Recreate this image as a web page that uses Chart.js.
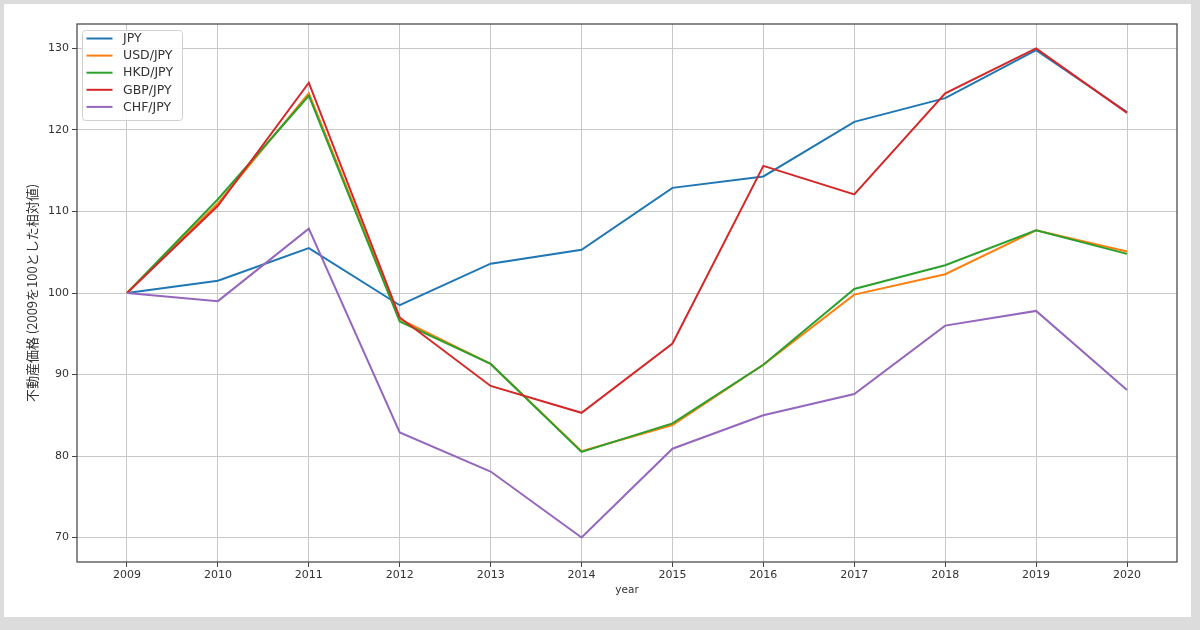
<!DOCTYPE html>
<html>
<head>
<meta charset="utf-8">
<script src="https://cdn.jsdelivr.net/npm/chart.js@4/dist/chart.umd.min.js"></script>
<style>
  html, body { margin: 0; padding: 0; background: #dcdcdc; }
  #box { position: absolute; left: 4px; top: 4px; width: 1187px; height: 613px; background: #fff; }
  #c { display: block; }
</style>
</head>
<body>
<div id="box"><canvas id="c" width="1187" height="613"></canvas></div>
<script>
const years = [2009, 2010, 2011, 2012, 2013, 2014, 2015, 2016, 2017, 2018, 2019, 2020];
const yTicks = [70, 80, 90, 100, 110, 120, 130];

const jpy = [100, 101.5, 105.5, 98.5, 103.6, 105.3, 112.9, 114.3, 121.0, 123.9, 129.8, 122.2];
const usdJpy = [100, 111.0, 124.5, 96.8, 91.3, 80.6, 83.8, 91.2, 99.8, 102.3, 107.7, 105.1];
const hkdJpy = [100, 111.5, 124.2, 96.5, 91.3, 80.5, 84.0, 91.2, 100.5, 103.4, 107.7, 104.8];
const gbpJpy = [100, 110.7, 125.8, 97.0, 88.6, 85.3, 93.8, 115.6, 112.1, 124.5, 130.0, 122.1];
const chfJpy = [100, 99.0, 107.9, 82.9, 78.1, 70.0, 80.9, 85.0, 87.6, 96.0, 97.8, 88.1];

const seriesNames = ["JPY", "USD/JPY", "HKD/JPY", "GBP/JPY", "CHF/JPY"];
const seriesValues = [jpy, usdJpy, hkdJpy, gbpJpy, chfJpy];
const colors = ["#1f77b4", "#ff7f0e", "#2ca02c", "#d62728", "#9467bd"];

const tickFont = { family: "'DejaVu Sans', sans-serif", size: 11 };

// matplotlib-like frame + legend inside the axes
const framePlugin = {
  id: "frame",
  beforeDatasetsDraw(chart) {
    const a = chart.chartArea, ctx = chart.ctx;
    ctx.save();
    ctx.strokeStyle = "#4d4d4d";
    ctx.lineWidth = 1.3;
    ctx.strokeRect(a.left, a.top, a.right - a.left, a.bottom - a.top);
    ctx.restore();
  },
  afterDraw(chart) {
    const a = chart.chartArea, ctx = chart.ctx;
    const x0 = a.left + 5, y0 = a.top + 6, w = 100, h = 90;
    ctx.save();
    ctx.fillStyle = "rgba(255,255,255,0.85)";
    ctx.strokeStyle = "#d0d0d0";
    ctx.lineWidth = 1;
    ctx.beginPath();
    ctx.roundRect(x0 + 0.5, y0 + 0.5, w, h, 3);
    ctx.fill();
    ctx.stroke();
    ctx.font = "12.5px 'DejaVu Sans', sans-serif";
    ctx.textBaseline = "middle";
    chart.data.datasets.forEach((ds, i) => {
      const yy = y0 + 8.5 + i * 17.1;
      ctx.strokeStyle = ds.borderColor;
      ctx.lineWidth = 2;
      ctx.beginPath();
      ctx.moveTo(x0 + 4.5, yy);
      ctx.lineTo(x0 + 30.5, yy);
      ctx.stroke();
      ctx.fillStyle = "#333";
      ctx.fillText(ds.label, x0 + 41, yy + 0.5);
    });
    ctx.restore();
  }
};

const datasets = seriesNames.map((name, i) => ({
  label: name,
  data: years.map((y, j) => ({ x: y, y: seriesValues[i][j] })),
  borderColor: colors[i],
  backgroundColor: colors[i],
  borderWidth: 2,
  pointRadius: 0,
  tension: 0,
  order: seriesNames.length - i
}));

new Chart(document.getElementById("c"), {
  type: "line",
  data: { datasets: datasets },
  plugins: [framePlugin],
  options: {
    responsive: false,
    animation: false,
    layout: { padding: { left: 0, top: 20, right: 14, bottom: 0 } },
    plugins: { legend: { display: false }, tooltip: { enabled: false } },
    scales: {
      x: {
        type: "linear",
        min: 2008.45,
        max: 2020.55,
        afterBuildTicks: (s) => { s.ticks = years.map(v => ({ value: v })); },
        afterFit: (s) => { s.height = 55; },
        border: { display: false },
        grid: { color: "#c8c8c8", lineWidth: 1, tickLength: 5, tickColor: "#444" },
        ticks: { font: tickFont, color: "#333", padding: 2, maxRotation: 0, callback: v => String(v) },
        title: { display: true, text: "year", font: { family: "'DejaVu Sans', sans-serif", size: 10.5 }, color: "#333", padding: { top: 4, bottom: 20 } }
      },
      y: {
        min: 67,
        max: 133,
        afterBuildTicks: (s) => { s.ticks = yTicks.map(v => ({ value: v })); },
        afterFit: (s) => { s.width = 73; },
        border: { display: false },
        grid: { color: "#c8c8c8", lineWidth: 1, tickLength: 5, tickColor: "#444" },
        ticks: { font: tickFont, color: "#333", padding: 3 },
        title: { display: true, text: "不動産価格 (2009を100とした相対値)", font: { family: "'Noto Sans CJK JP', sans-serif", size: 13 }, color: "#333", padding: { top: 20.5, bottom: 4 } }
      }
    }
  }
});
</script>
</body>
</html>
